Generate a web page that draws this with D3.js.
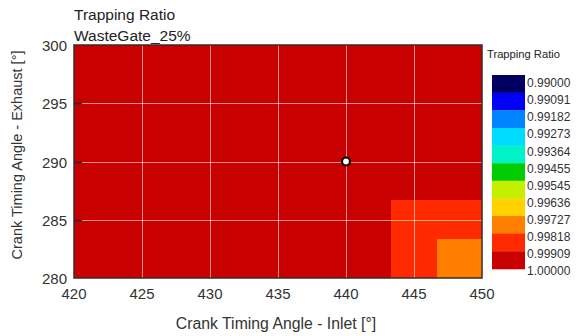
<!DOCTYPE html>
<html>
<head>
<meta charset="utf-8">
<script src="https://cdn.jsdelivr.net/npm/d3@7"></script>
<style>
  body { margin: 0; background: #fff; }
  text { font-family: "Liberation Sans", Arial, sans-serif; }
</style>
</head>
<body>
<svg width="581" height="336"></svg>
<script>
// cell edges of the map (inlet / exhaust crank timing, deg)
var inletEdges = [420, 423.33, 426.67, 430, 433.33, 436.67, 440, 443.33, 446.67, 450];
var exhaustEdges = [280, 283.33, 286.67, 290, 293.33, 296.67, 300];

// trapping ratio per cell, rows from exhaust 280 upwards, columns from inlet 420
var ratio = [
  [0.9996, 0.9996, 0.9996, 0.9996, 0.9996, 0.9996, 0.9996, 0.9986, 0.9978],
  [0.9996, 0.9996, 0.9996, 0.9996, 0.9996, 0.9996, 0.9996, 0.9987, 0.9986],
  [0.9997, 0.9997, 0.9997, 0.9997, 0.9997, 0.9997, 0.9997, 0.9995, 0.9994],
  [0.9998, 0.9998, 0.9998, 0.9998, 0.9998, 0.9998, 0.9998, 0.9997, 0.9996],
  [0.9998, 0.9998, 0.9998, 0.9998, 0.9998, 0.9998, 0.9998, 0.9998, 0.9997],
  [0.9999, 0.9999, 0.9999, 0.9999, 0.9999, 0.9999, 0.9999, 0.9998, 0.9998]
];

var levels = [0.99, 0.99091, 0.99182, 0.99273, 0.99364, 0.99455, 0.99545, 0.99636, 0.99727, 0.99818, 0.99909, 1.0];
var levelLabels = ["0.99000", "0.99091", "0.99182", "0.99273", "0.99364", "0.99455",
  "0.99545", "0.99636", "0.99727", "0.99818", "0.99909", "1.00000"];
var bandColors = ["#000062", "#0000f4", "#0084ff", "#00dcff", "#00f2c8", "#00cc00",
  "#c4f000", "#ffd200", "#ff8000", "#ff2a00", "#c80000"];

var inletTicks = [420, 425, 430, 435, 440, 445, 450];
var exhaustTicks = [280, 285, 290, 295, 300];
var operatingPoint = { inlet: 440, exhaust: 290 };

var svg = d3.select("svg");

var x = d3.scaleLinear().domain([420, 450]).range([74, 482]);
var y = d3.scaleLinear().domain([280, 300]).range([278, 45]);

var color = d3.scaleThreshold()
  .domain(levels.slice(1, -1))
  .range(bandColors);

var cells = [];
ratio.forEach(function (row, j) {
  row.forEach(function (v, i) {
    cells.push({ x0: inletEdges[i], x1: inletEdges[i + 1], y0: exhaustEdges[j], y1: exhaustEdges[j + 1], v: v });
  });
});

svg.append("g")
  .attr("shape-rendering", "crispEdges")
  .selectAll("rect")
  .data(cells)
  .enter()
  .append("rect")
  .attr("x", function (d) { return Math.round(x(d.x0)); })
  .attr("y", function (d) { return Math.round(y(d.y1)); })
  .attr("width", function (d) { return Math.round(x(d.x1)) - Math.round(x(d.x0)); })
  .attr("height", function (d) { return Math.round(y(d.y0)) - Math.round(y(d.y1)); })
  .attr("fill", function (d) { return color(d.v); });

// grid
var grid = svg.append("g").attr("stroke", "#fff").attr("stroke-opacity", 0.55).attr("stroke-width", 1);
grid.selectAll("line.vx")
  .data(inletTicks.slice(1, -1))
  .enter()
  .append("line")
  .attr("x1", function (d) { return Math.round(x(d)) + 0.5; })
  .attr("x2", function (d) { return Math.round(x(d)) + 0.5; })
  .attr("y1", y(300))
  .attr("y2", y(280));
grid.selectAll("line.hy")
  .data(exhaustTicks.slice(1, -1))
  .enter()
  .append("line")
  .attr("y1", function (d) { return Math.round(y(d)) + 0.5; })
  .attr("y2", function (d) { return Math.round(y(d)) + 0.5; })
  .attr("x1", x(420))
  .attr("x2", x(450));

// inner ticks on the left
svg.append("g")
  .selectAll("line")
  .data(exhaustTicks.slice(1, -1))
  .enter()
  .append("line")
  .attr("x1", x(420))
  .attr("x2", x(420) + 8)
  .attr("y1", function (d) { return Math.round(y(d)) + 0.5; })
  .attr("y2", function (d) { return Math.round(y(d)) + 0.5; })
  .attr("stroke", "#222")
  .attr("stroke-width", 1.5);

svg.append("rect")
  .attr("x", x(420))
  .attr("y", y(300))
  .attr("width", x(450) - x(420))
  .attr("height", y(280) - y(300))
  .attr("fill", "none")
  .attr("stroke", "#3a2a2a")
  .attr("stroke-width", 1.5);

// operating point
svg.append("circle")
  .attr("cx", x(operatingPoint.inlet))
  .attr("cy", y(operatingPoint.exhaust))
  .attr("r", 4)
  .attr("fill", "#fff")
  .attr("stroke", "#000")
  .attr("stroke-width", 2.2);

// tick labels
svg.append("g")
  .selectAll("text")
  .data(exhaustTicks)
  .enter()
  .append("text")
  .attr("x", 67)
  .attr("y", function (d) { return y(d); })
  .attr("dy", "0.4em")
  .attr("text-anchor", "end")
  .attr("font-size", 15)
  .attr("fill", "#333")
  .text(function (d) { return d; });

svg.append("g")
  .selectAll("text")
  .data(inletTicks)
  .enter()
  .append("text")
  .attr("x", function (d) { return x(d); })
  .attr("y", 299)
  .attr("text-anchor", "middle")
  .attr("font-size", 15)
  .attr("fill", "#333")
  .text(function (d) { return d; });

// axis titles
svg.append("text")
  .attr("x", (x(420) + x(450)) / 2 - 2)
  .attr("y", 329)
  .attr("text-anchor", "middle")
  .attr("font-size", 15.8)
  .attr("fill", "#333")
  .text("Crank Timing Angle - Inlet [°]");

svg.append("text")
  .attr("transform", "translate(22,155) rotate(-90)")
  .attr("text-anchor", "middle")
  .attr("font-size", 14.5)
  .attr("fill", "#333")
  .text("Crank Timing Angle - Exhaust [°]");

// title
svg.append("text").attr("x", 74).attr("y", 20).attr("font-size", 15.5).attr("fill", "#222").text("Trapping Ratio");
svg.append("text").attr("x", 74).attr("y", 41).attr("font-size", 15.5).attr("fill", "#222").text("WasteGate_25%");

// legend
var ly = d3.scaleLinear().domain([0.99, 1.0]).range([75, 269]);
var labelY = d3.scaleLinear().domain([0, levelLabels.length - 1]).range([83, 271]);
var legend = svg.append("g");

legend.append("text")
  .attr("x", 487)
  .attr("y", 58)
  .attr("font-size", 11.2)
  .attr("fill", "#222")
  .text("Trapping Ratio");

legend.selectAll("rect")
  .data(bandColors)
  .enter()
  .append("rect")
  .attr("x", 492)
  .attr("y", function (d, i) { return ly(levels[i]); })
  .attr("width", 33)
  .attr("height", function (d, i) { return ly(levels[i + 1]) - ly(levels[i]) + 0.3; })
  .attr("fill", function (d) { return d; });

legend.selectAll("text.lab")
  .data(levelLabels)
  .enter()
  .append("text")
  .attr("class", "lab")
  .attr("x", 527)
  .attr("y", function (d, i) { return labelY(i); })
  .attr("dy", "0.35em")
  .attr("font-size", 12)
  .attr("fill", "#333")
  .text(function (d) { return d; });
</script>
</body>
</html>
